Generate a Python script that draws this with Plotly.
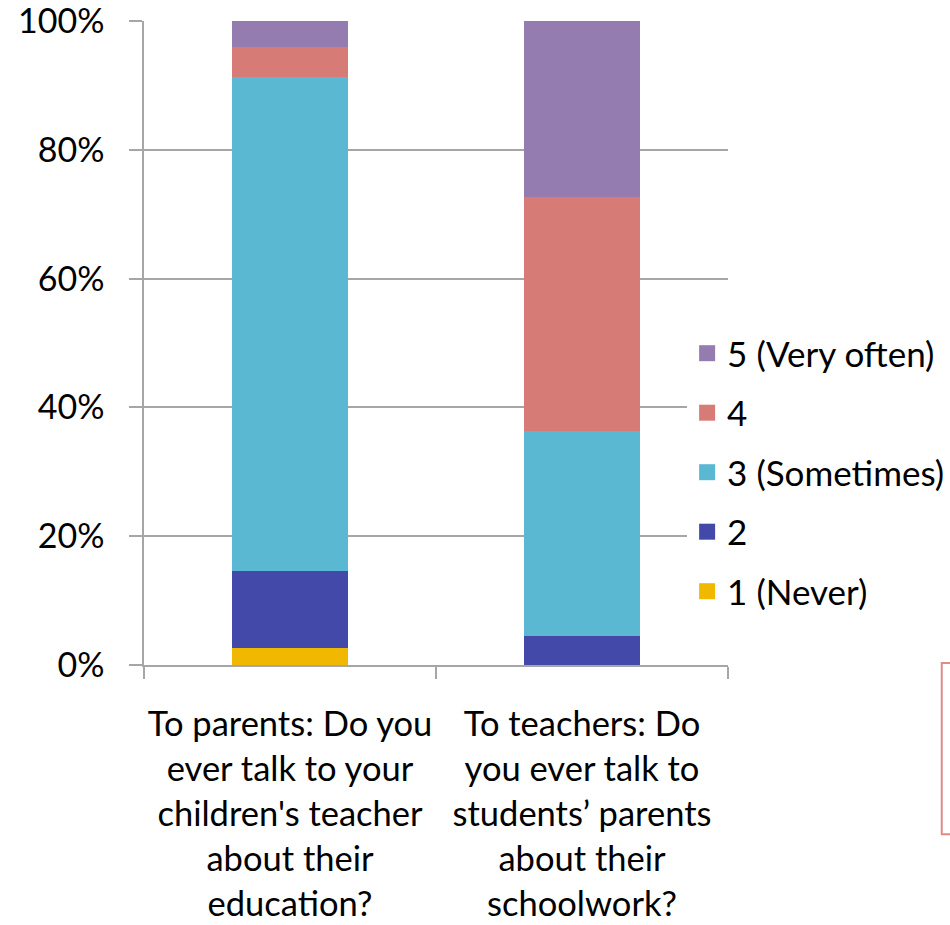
import plotly.graph_objects as go

# -----------------------------------------------------
# Data
# -----------------------------------------------------

questions = [
    "To parents: Do you<br>ever talk to your<br>children's teacher<br>about their<br>education?",
    "To teachers: Do<br>you ever talk to<br>students’ parents<br>about their<br>schoolwork?",
]

levels = ["1 (Never)", "2", "3 (Sometimes)", "4", "5 (Very often)"]

never = [2.6, 0.0]
two = [12.0, 4.5]
sometimes = [76.7, 31.8]
four = [4.7, 36.4]
very_often = [4.0, 27.3]

series = [never, two, sometimes, four, very_often]

colors = ["#F0B800", "#4349A9", "#5BB8D2", "#D77B76", "#947CB0"]

y_ticks = [0, 20, 40, 60, 80, 100]
y_labels = ["0%", "20%", "40%", "60%", "80%", "100%"]

# -----------------------------------------------------
# Figure
# -----------------------------------------------------

fig = go.Figure()

for name, vals, col in zip(levels, series, colors):
    fig.add_trace(
        go.Bar(
            x=questions,
            y=vals,
            name=name,
            marker=dict(color=col, line=dict(width=0)),
            showlegend=False,
        )
    )

# legend entries (bigger square swatches than the bar default)
for i, (name, col) in enumerate(zip(levels, colors)):
    fig.add_trace(
        go.Scatter(
            x=[None],
            y=[None],
            mode="markers",
            name=name,
            legendgroup=name,
            legendrank=len(levels) - i,
            marker=dict(symbol="square", size=16, color=col),
            hoverinfo="skip",
        )
    )

FONT = "Lato, 'Open Sans', sans-serif"

fig.update_layout(
    barmode="stack",
    bargap=0.6,
    width=950,
    height=925,
    paper_bgcolor="white",
    plot_bgcolor="white",
    font=dict(family=FONT, size=35, color="black"),
    margin=dict(l=144, r=222, t=21, b=260, autoexpand=False),
    legend=dict(
        x=0.930,
        xanchor="left",
        y=0.299,
        yanchor="middle",
        traceorder="grouped",
        tracegroupgap=11,
        font=dict(size=35),
        itemsizing="trace",
    ),
    # partially visible outlined box at the bottom right
    shapes=[
        dict(
            type="rect",
            xref="paper",
            yref="paper",
            x0=1.366,
            x1=1.6,
            y0=-0.263,
            y1=0.003,
            line=dict(color="#E08A8A", width=2),
            fillcolor="rgba(0,0,0,0)",
        )
    ],
)

fig.update_xaxes(
    showline=True,
    linecolor="#A6A6A6",
    linewidth=1.5,
    ticks="outside",
    tickson="boundaries",
    ticklen=12,
    tickcolor="#A6A6A6",
    tickwidth=1.5,
    tickangle=0,
    ticklabelstandoff=28,
    tickfont=dict(size=34.5),
    showgrid=False,
    automargin=False,
)

fig.update_yaxes(
    range=[0, 100],
    tickvals=y_ticks,
    ticktext=y_labels,
    showgrid=True,
    gridcolor="#A6A6A6",
    gridwidth=1.5,
    showline=True,
    linecolor="#A6A6A6",
    linewidth=1.5,
    ticks="outside",
    ticklen=13,
    tickcolor="#A6A6A6",
    tickwidth=1.5,
    ticklabelstandoff=18,
    ticklabeloverflow="allow",
    tickfont=dict(size=34),
    zeroline=False,
    automargin=False,
)

# drop the default 8px body margin so the figure fills the window
fig.write_html(
    "out.html",
    config={"displayModeBar": False},
    post_script="document.body.style.margin='0';",
)
